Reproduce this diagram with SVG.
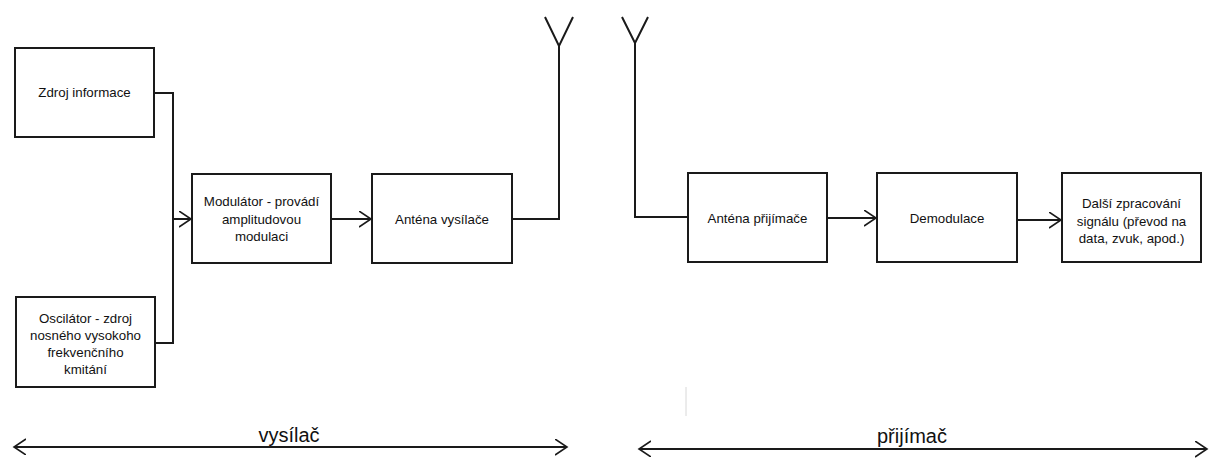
<svg xmlns="http://www.w3.org/2000/svg" width="1214" height="459" viewBox="0 0 1214 459">
<style>
.box{fill:#fff;stroke:#1a1a1a;stroke-width:2}
.ln{fill:none;stroke:#1a1a1a;stroke-width:2}
.ah{fill:none;stroke:#1a1a1a;stroke-width:1.6}
.t{font-family:"Liberation Sans",Arial,sans-serif;font-size:13.3px;fill:#111;text-anchor:middle}
.big{font-family:"Liberation Sans",Arial,sans-serif;font-size:20px;fill:#111;text-anchor:middle}
</style>
<defs>
<marker id="arr" markerWidth="14" markerHeight="18" refX="12" refY="8" orient="auto-start-reverse" markerUnits="userSpaceOnUse">
<path d="M0,0 L12,8 L0,16" class="ah"/>
</marker>
</defs>
<rect width="1214" height="459" fill="#fff"/>
<g id="zdroj">
<rect class="box" x="15" y="48" width="139" height="89"/>
<text class="t" x="84.5" y="97">Zdroj informace</text>
</g>
<g id="oscilator">
<rect class="box" x="16" y="297" width="139" height="90"/>
<text class="t" x="85.5" y="322.5">Oscilátor - zdroj</text>
<text class="t" x="85.5" y="340">nosného vysokoho</text>
<text class="t" x="85.5" y="357">frekvenčního</text>
<text class="t" x="85.5" y="374">kmitání</text>
</g>
<g id="modulator">
<rect class="box" x="192" y="174" width="139" height="89"/>
<text class="t" x="261.5" y="206">Modulátor - provádí</text>
<text class="t" x="261.5" y="223.5">amplitudovou</text>
<text class="t" x="261.5" y="241">modulaci</text>
</g>
<g id="antena-vysilace">
<rect class="box" x="372" y="174" width="140" height="89"/>
<text class="t" x="442" y="223.5">Anténa vysílače</text>
</g>
<g id="antena-prijimace">
<rect class="box" x="688" y="173" width="139" height="89"/>
<text class="t" x="757.5" y="222.5">Anténa přijímače</text>
</g>
<g id="demodulace">
<rect class="box" x="877" y="173" width="140" height="89"/>
<text class="t" x="947" y="222.5">Demodulace</text>
</g>
<g id="dalsi">
<rect class="box" x="1062" y="173" width="139" height="89"/>
<text class="t" x="1131.5" y="208">Další zpracování</text>
<text class="t" x="1131.5" y="225.5">signálu (převod na</text>
<text class="t" x="1131.5" y="243">data, zvuk, apod.)</text>
</g>
<g id="connectors">
<polyline class="ln" points="154,93 173,93 173,343 155,343"/>
<line class="ln" x1="173" y1="219" x2="191" y2="219" marker-end="url(#arr)"/>
<line class="ln" x1="331" y1="219" x2="371" y2="219" marker-end="url(#arr)"/>
<polyline class="ln" points="512,219 559,219 559,46"/>
<polyline class="ln" points="545,17 559,46 573,17"/>
<polyline class="ln" points="622,17 635,43 648,17"/>
<polyline class="ln" points="635,43 635,217 688,217"/>
<line class="ln" x1="827" y1="218" x2="876" y2="218" marker-end="url(#arr)"/>
<line class="ln" x1="1017" y1="220" x2="1061" y2="220" marker-end="url(#arr)"/>
<line class="ln" x1="14" y1="447" x2="567" y2="447" marker-start="url(#arr)" marker-end="url(#arr)"/>
<line class="ln" x1="639" y1="449" x2="1207" y2="449" marker-start="url(#arr)" marker-end="url(#arr)"/>
<line x1="686" y1="387" x2="686" y2="416" stroke="#d8d8d8" stroke-width="1"/>
</g>
<text class="big" x="289" y="442">vysílač</text>
<text class="big" x="912" y="443">přijímač</text>
</svg>
